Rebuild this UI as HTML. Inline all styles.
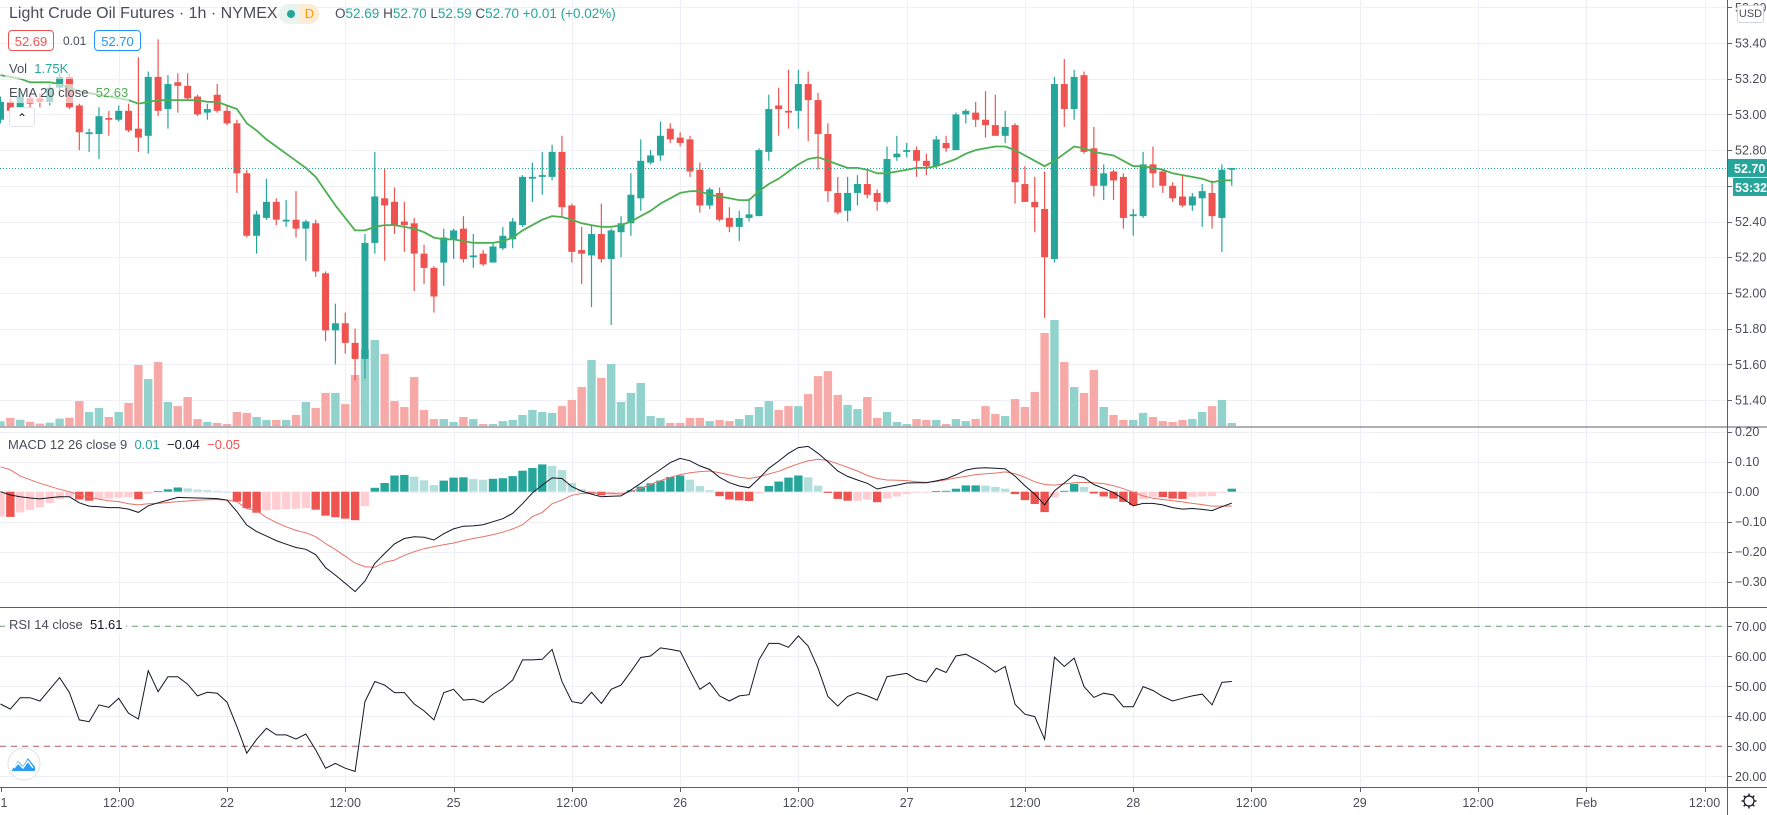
<!DOCTYPE html>
<html><head><meta charset="utf-8"><title>Light Crude Oil Futures 1h</title>
<style>
html,body{margin:0;padding:0;background:#fff;}
#wrap{position:relative;width:1767px;height:815px;overflow:hidden;font-family:"Liberation Sans",sans-serif;color:#131722;}
svg{position:absolute;left:0;top:0;}
.lg{position:absolute;white-space:nowrap;font-size:13px;color:#4a4d57;line-height:16px;}
.t{color:#26a69a}
</style></head><body>
<div id="wrap">
<svg id="chart" width="1767" height="815" viewBox="0 0 1767 815">
<defs>
<clipPath id="cpPrice"><rect x="0" y="0" width="1727" height="426"/></clipPath>
<clipPath id="cpMacd"><rect x="0" y="428" width="1727" height="179"/></clipPath>
<clipPath id="cpRsi"><rect x="0" y="609" width="1727" height="178"/></clipPath>
</defs>
</svg>

<div class="lg" style="left:9px;top:4px;font-size:16px;line-height:20px;color:#4a4d57">Light Crude Oil Futures · 1h · NYMEX</div>
<div style="position:absolute;left:279px;top:4px;width:40px;height:20px;border-radius:10px;background:#e9f4f1">
 <div style="position:absolute;left:8px;top:6px;width:8px;height:8px;border-radius:4px;background:#26a69a"></div>
 <div style="position:absolute;left:21px;top:0;width:19px;height:20px;border-radius:0 10px 10px 0;background:#fdebd3;color:#ff9800;font-size:13px;line-height:20px;text-align:center">D</div>
</div>
<div class="lg" style="left:335px;top:6px;font-size:13.5px">O<span class="t">52.69</span> H<span class="t">52.70</span> L<span class="t">52.59</span> C<span class="t">52.70</span> <span class="t">+0.01 (+0.02%)</span></div>
<div style="position:absolute;left:8px;top:30px;width:46px;height:21px;border:1px solid #ef5350;border-radius:4px;color:#ef5350;font-size:13px;line-height:21px;text-align:center;box-sizing:border-box">52.69</div>
<div class="lg" style="left:63px;top:33px;font-size:12px">0.01</div>
<div style="position:absolute;left:94px;top:30px;width:47px;height:21px;border:1px solid #2196f3;border-radius:4px;color:#2196f3;font-size:13px;line-height:21px;text-align:center;box-sizing:border-box">52.70</div>
<div class="lg" style="left:9px;top:61px">Vol&nbsp; <span class="t">1.75K</span></div>
<div class="lg" style="left:9px;top:85px">EMA 20 close&nbsp; <span style="color:#4caf50">52.63</span></div>
<div style="position:absolute;left:9px;top:107px;width:26px;height:20px;border:1px solid #e0e3eb;border-radius:3px;background:#fff;box-sizing:border-box;text-align:center;font-size:12px;line-height:20px;color:#131722">⌃</div>
<div class="lg" style="left:8px;top:437px">MACD 12 26 close 9&nbsp; <span class="t">0.01</span>&nbsp; <span style="color:#131722">−0.04</span>&nbsp; <span style="color:#ef5350">−0.05</span></div>
<div class="lg" style="left:5px;top:617px;background:#fff;padding:0 4px">RSI 14 close&nbsp; <span style="color:#131722">51.61</span></div>
<div style="position:absolute;left:1737px;top:5px;width:27px;height:18px;border:1px solid #d1d4dc;border-radius:3px;box-sizing:border-box;font-size:11px;line-height:16px;text-align:center;color:#4a4d57;background:#fff">USD</div>
</div>

<script>
// ---- data ----
const opens=[52.97,53.07,53.03,53.09,53.09,53.07,53.15,53.21,53.05,52.89,52.89,52.98,52.97,53.02,52.92,52.88,53.21,53.03,53.18,53.16,53.10,53.01,53.11,53.02,52.95,52.67,52.32,52.42,52.51,52.40,52.41,52.36,52.39,52.11,51.79,51.83,51.72,51.63,52.28,52.53,52.51,52.40,52.39,52.22,52.14,52.17,52.30,52.36,52.20,52.22,52.17,52.25,52.30,52.38,52.64,52.65,52.65,52.79,52.49,52.24,52.21,52.33,52.19,52.34,52.39,52.53,52.73,52.77,52.92,52.87,52.86,52.69,52.49,52.56,52.42,52.37,52.42,52.43,52.79,53.05,53.02,53.02,53.17,53.08,52.89,52.56,52.46,52.56,52.61,52.56,52.51,52.76,52.79,52.80,52.74,52.71,52.84,52.80,53.00,53.01,52.97,52.94,52.88,52.94,52.61,52.51,52.47,52.19,53.17,53.03,53.22,52.81,52.60,52.68,52.65,52.43,52.43,52.72,52.68,52.60,52.54,52.49,52.53,52.56,52.42,52.69];
const highs=[53.10,53.09,53.13,53.12,53.12,53.17,53.23,53.23,53.06,52.92,53.04,53.02,53.05,53.06,53.32,53.24,53.42,53.22,53.23,53.23,53.11,53.06,53.17,53.05,52.97,52.69,52.46,52.64,52.53,52.52,52.57,52.41,52.41,52.12,51.94,51.89,51.80,52.33,52.79,52.70,52.59,52.51,52.42,52.27,52.15,52.36,52.36,52.43,52.33,52.24,52.28,52.37,52.42,52.66,52.73,52.79,52.83,52.88,52.50,52.37,52.38,52.50,52.36,52.43,52.67,52.86,52.80,52.96,52.95,52.90,52.88,52.73,52.59,52.59,52.48,52.46,52.53,52.81,53.11,53.15,53.25,53.25,53.24,53.12,52.95,52.65,52.65,52.66,52.69,52.58,52.82,52.88,52.84,52.82,52.78,52.88,52.88,53.01,53.03,53.07,53.13,53.11,53.02,52.95,52.71,52.65,52.68,53.21,53.31,53.25,53.24,52.93,52.72,52.69,52.67,52.47,52.79,52.82,52.69,52.62,52.66,52.56,52.61,52.63,52.72,52.70];
const lows=[52.95,53.00,53.00,53.02,53.04,53.05,53.13,53.03,52.80,52.79,52.75,52.88,52.96,52.90,52.79,52.78,52.99,52.92,53.01,53.08,52.99,52.97,53.01,52.94,52.56,52.31,52.22,52.41,52.38,52.37,52.31,52.18,52.09,51.73,51.60,51.66,51.51,51.52,52.22,52.18,52.33,52.23,52.01,52.05,51.89,52.04,52.19,52.17,52.14,52.15,52.17,52.24,52.25,52.37,52.51,52.55,52.63,52.42,52.17,52.05,51.92,52.17,51.82,52.20,52.32,52.46,52.72,52.74,52.84,52.82,52.65,52.45,52.47,52.40,52.34,52.29,52.40,52.43,52.74,52.88,52.92,52.92,52.85,52.69,52.51,52.44,52.40,52.49,52.53,52.46,52.50,52.74,52.76,52.65,52.66,52.70,52.79,52.80,52.95,52.93,52.87,52.88,52.84,52.50,52.51,52.34,51.86,52.17,52.93,52.97,52.78,52.54,52.52,52.52,52.36,52.32,52.42,52.59,52.56,52.51,52.48,52.46,52.37,52.36,52.23,52.60];
const closes=[53.07,53.02,53.10,53.06,53.07,53.15,53.21,53.04,52.90,52.90,52.99,52.97,53.02,52.91,52.87,53.21,53.02,53.17,53.16,53.09,53.00,53.03,53.02,52.95,52.67,52.32,52.44,52.51,52.41,52.41,52.36,52.40,52.12,51.79,51.83,51.72,51.63,52.28,52.54,52.49,52.38,52.38,52.22,52.14,51.98,52.31,52.35,52.19,52.21,52.16,52.26,52.32,52.40,52.65,52.65,52.66,52.79,52.48,52.23,52.22,52.33,52.19,52.35,52.39,52.55,52.74,52.77,52.88,52.86,52.84,52.68,52.49,52.58,52.41,52.37,52.42,52.44,52.80,53.03,53.03,53.01,53.17,53.08,52.89,52.57,52.45,52.56,52.61,52.55,52.51,52.75,52.78,52.80,52.74,52.71,52.86,52.81,53.00,53.02,52.97,52.94,52.88,52.93,52.62,52.51,52.48,52.20,53.17,53.03,53.21,52.79,52.60,52.67,52.63,52.42,52.44,52.72,52.67,52.60,52.53,52.49,52.54,52.57,52.43,52.69,52.70];
const volumes=[2.5,4.0,3.2,2.3,1.5,1.9,3.7,4.1,11.4,6.6,8.4,4.4,6.6,10.6,27.3,21.1,28.6,11.0,9.2,13.2,3.5,2.2,1.8,1.3,6.6,6.2,4.4,3.1,3.1,3.1,5.3,11.0,8.4,15.0,15.0,10.1,22.9,34.3,38.3,32.1,11.4,8.8,22.0,7.5,3.5,3.5,2.2,4.4,3.5,1.3,1.3,2.6,3.1,5.3,7.5,6.6,6.2,9.2,11.9,17.6,29.5,21.6,27.7,11.0,15.0,19.4,4.8,4.0,1.8,1.8,4.0,4.0,2.6,3.1,2.6,3.5,5.3,8.8,11.4,7.5,9.2,9.2,14.5,22.4,24.6,14.1,9.7,7.9,13.2,4.0,6.6,2.2,1.3,3.5,3.1,3.1,1.3,3.5,2.6,3.5,9.2,5.7,4.8,12.3,8.8,15.4,41.4,47.1,28.6,17.6,15.0,25.1,8.8,5.3,3.1,3.1,6.2,4.4,2.6,2.2,3.1,3.5,6.6,9.2,11.9,1.75];
const ema20=[53.22,53.21,53.20,53.18,53.18,53.18,53.17,53.15,53.13,53.12,53.11,53.10,53.09,53.08,53.06,53.07,53.08,53.08,53.08,53.08,53.08,53.07,53.07,53.05,53.03,52.95,52.91,52.86,52.82,52.78,52.74,52.70,52.65,52.57,52.49,52.42,52.35,52.35,52.37,52.38,52.38,52.37,52.36,52.34,52.31,52.30,52.30,52.29,52.28,52.28,52.28,52.29,52.31,52.35,52.38,52.41,52.43,52.425,52.41,52.39,52.38,52.37,52.37,52.38,52.40,52.43,52.46,52.50,52.53,52.56,52.57,52.57,52.55,52.54,52.53,52.52,52.52,52.57,52.61,52.64,52.68,52.72,52.75,52.76,52.74,52.72,52.70,52.70,52.69,52.67,52.67,52.68,52.69,52.70,52.70,52.71,52.73,52.75,52.78,52.80,52.81,52.82,52.82,52.80,52.77,52.74,52.71,52.74,52.78,52.82,52.81,52.79,52.78,52.77,52.74,52.71,52.71,52.70,52.69,52.67,52.66,52.65,52.64,52.62,52.63,52.63];
const macdLine=[0.000,-0.011,-0.017,-0.021,-0.024,-0.020,-0.017,-0.017,-0.037,-0.048,-0.050,-0.053,-0.053,-0.058,-0.069,-0.047,-0.037,-0.028,-0.019,-0.020,-0.021,-0.022,-0.023,-0.028,-0.066,-0.111,-0.133,-0.148,-0.163,-0.175,-0.186,-0.192,-0.210,-0.253,-0.278,-0.305,-0.333,-0.298,-0.239,-0.206,-0.174,-0.156,-0.150,-0.152,-0.161,-0.140,-0.124,-0.115,-0.114,-0.110,-0.100,-0.090,-0.072,-0.040,-0.004,0.022,0.046,0.044,0.017,0.002,-0.008,-0.017,-0.015,-0.014,0.006,0.028,0.052,0.074,0.097,0.111,0.103,0.086,0.074,0.048,0.030,0.019,0.013,0.044,0.078,0.102,0.128,0.147,0.151,0.128,0.100,0.069,0.051,0.039,0.028,0.009,0.016,0.022,0.029,0.030,0.030,0.036,0.043,0.056,0.072,0.078,0.080,0.078,0.076,0.052,0.020,-0.008,-0.044,0.003,0.029,0.056,0.047,0.024,0.011,-0.003,-0.024,-0.047,-0.039,-0.039,-0.044,-0.053,-0.058,-0.056,-0.059,-0.063,-0.050,-0.038];
const signalLine=[0.083,0.073,0.052,0.040,0.028,0.018,0.008,0.000,-0.011,-0.018,-0.025,-0.030,-0.033,-0.040,-0.044,-0.040,-0.039,-0.036,-0.033,-0.031,-0.028,-0.027,-0.026,-0.028,-0.033,-0.056,-0.063,-0.086,-0.103,-0.117,-0.129,-0.137,-0.150,-0.173,-0.193,-0.215,-0.238,-0.250,-0.252,-0.235,-0.228,-0.212,-0.200,-0.190,-0.183,-0.177,-0.171,-0.163,-0.156,-0.150,-0.143,-0.135,-0.124,-0.110,-0.083,-0.069,-0.040,-0.028,-0.012,-0.006,-0.005,-0.005,-0.005,-0.008,0.001,0.011,0.024,0.037,0.048,0.057,0.063,0.067,0.069,0.063,0.056,0.048,0.044,0.050,0.059,0.068,0.081,0.093,0.103,0.108,0.104,0.093,0.081,0.069,0.054,0.044,0.039,0.038,0.037,0.033,0.031,0.034,0.040,0.046,0.051,0.057,0.060,0.062,0.066,0.060,0.048,0.033,0.024,0.022,0.026,0.030,0.031,0.030,0.027,0.020,0.010,-0.002,-0.014,-0.022,-0.026,-0.030,-0.034,-0.039,-0.043,-0.048,-0.048,-0.048];
const rsiValues=[44.1,42.4,46.2,46.2,45.1,49,52.9,47.9,38.8,38.2,43.8,43,46,41,39.1,55.2,48.2,53.2,53.2,50.7,46.8,48,47.7,44.7,36.6,27.7,32.3,36,33.8,33.8,32.4,34.1,28.8,22.7,24.3,22.7,21.6,44.9,51.6,50.4,47.9,47.9,44.1,41.8,38.8,47.9,49,45.4,45.7,44.6,47.4,49.3,52.1,58.8,58.8,59,62.3,51.6,44.9,44.3,48,44.3,49,50.4,54.9,59.6,60.1,62.8,62.3,61.7,55.2,49,51.2,46.8,45.1,46.8,47.2,58.8,64.3,64.3,63,66.8,63.4,56,46.6,43.4,46.6,47.9,46.8,45.4,53.2,53.8,54.3,52.3,51.4,56,54.6,60.1,60.7,59,57.1,54.7,56.6,44,40.7,39.9,32.3,59.7,56.6,59.4,49.9,46.3,47.7,47.1,43.2,43.2,49.9,48.6,46.6,45.1,46,46.8,47.4,43.8,51.3,51.61];
const priceTicks=[53.60,53.40,53.20,53.00,52.80,52.60,52.40,52.20,52.00,51.80,51.60,51.40];
const macdTicks=[0.20,0.10,0.00,-0.10,-0.20,-0.30];
const rsiTicks=[70,60,50,40,30,20];
const timeTickBars=[0,12,23,35,46,58,69,81,92,104,115,127,138,150,161,173];
const timeTickLabels=["21","12:00","22","12:00","25","12:00","26","12:00","27","12:00","28","12:00","29","12:00","Feb","12:00"];
const lastPrice=52.70;

// ---- scales ----
const NS="http://www.w3.org/2000/svg";
const svg=document.getElementById('chart');
const STEP=9.85, PLOT_R=1727;
function xAt(i){return i*STEP+0.5;}
function yP(p){return 43+(53.40-p)*178.5;}
function yV(v){return 427-v/47.1*107;}
function yM(v){return 491.7-v*300;}
function yR(v){return 626.3+(70-v)*3;}
function mk(tag,attrs,parent){const el=document.createElementNS(NS,tag);for(const k in attrs)el.setAttribute(k,attrs[k]);(parent||svg).appendChild(el);return el;}
const f2=v=>v.toFixed(2).replace('-','−');

// ---- grid ----
const gGrid=mk('g',{});


timeTickBars.forEach((b,k)=>{ if(k===0) return;
  const x=Math.round(xAt(b))+0.5;
  const l=mk('line',{x1:x,x2:x,y1:0,y2:787,stroke:'#eef0f5','stroke-width':1},gGrid);
  
  
});
priceTicks.forEach(p=>{const y=Math.round(yP(p))+0.5;
  const l=mk('line',{x1:0,x2:PLOT_R,y1:y,y2:y,stroke:'#eef0f5'},gGrid);
  
  });
macdTicks.forEach(v=>{const y=Math.round(yM(v))+0.5;
  const l=mk('line',{x1:0,x2:PLOT_R,y1:y,y2:y,stroke:'#eef0f5'},gGrid);
  
  });
rsiTicks.forEach(v=>{const y=Math.round(yR(v))+0.5;
  const l=mk('line',{x1:0,x2:PLOT_R,y1:y,y2:y,stroke:'#eef0f5'},gGrid);
  
  });

// ---- price pane ----
const gP=mk('g',{'clip-path':'url(#cpPrice)'});


volumes.forEach((v,i)=>{const up=closes[i]>=opens[i];const y=yV(v);
  const r=mk('rect',{x:xAt(i)-4.2,y:y,width:8.4,height:427-y,fill:up?'#92d2cc':'#f7a9a7'},gP);
  
  });
opens.forEach((o,i)=>{const c=closes[i];const up=c>=o;const col=up?'#26a69a':'#ef5350';const x=xAt(i);
  const w=mk('line',{x1:x,x2:x,y1:yP(highs[i]),y2:yP(lows[i]),stroke:col,'stroke-width':1.2},gP);
  
  
  const t=yP(Math.max(o,c)),b=yP(Math.min(o,c));
  const r=mk('rect',{x:x-3.5,y:t,width:7,height:Math.max(1.2,b-t),fill:col},gP);
  
  });
const emaPath=mk('polyline',{points:ema20.map((v,i)=>xAt(i)+','+yP(v).toFixed(1)).join(' '),fill:'none',stroke:'#4caf50','stroke-width':1.8,'stroke-linejoin':'round'},gP);


const ly=Math.round(yP(lastPrice))+0.5;
const lpl=mk('line',{x1:0,x2:PLOT_R,y1:ly,y2:ly,stroke:'#26a69a','stroke-dasharray':'1 2','stroke-width':1},gP);


const fade1=mk('rect',{x:5,y:60,width:68,height:19,fill:'#fff','fill-opacity':0.6},gP);


const fade2=mk('rect',{x:5,y:84,width:124,height:19,fill:'#fff','fill-opacity':0.6},gP);



// ---- MACD pane ----
const gM=mk('g',{'clip-path':'url(#cpMacd)'});


let prevH=null;
macdLine.forEach((m,i)=>{const h=m-signalLine[i];let col;
  if(h>=0) col=(prevH===null||h>=prevH)?'#26a69a':'#b2dfdb'; else col=(prevH!==null&&h<prevH)?'#ef5350':'#ffcdd2';
  prevH=h;const y0=yM(0),y1=yM(h);
  const r=mk('rect',{x:xAt(i)-4.2,y:Math.min(y0,y1),width:8.4,height:Math.max(0.8,Math.abs(y1-y0)),fill:col},gM);
  
  });
const sigL=mk('polyline',{points:signalLine.map((v,i)=>xAt(i)+','+yM(v).toFixed(1)).join(' '),fill:'none',stroke:'#e57368','stroke-width':1},gM);


const macL=mk('polyline',{points:macdLine.map((v,i)=>xAt(i)+','+yM(v).toFixed(1)).join(' '),fill:'none',stroke:'#131722','stroke-width':1},gM);



// ---- RSI pane ----
const gR=mk('g',{'clip-path':'url(#cpRsi)'});


const ob=mk('line',{x1:0,x2:PLOT_R,y1:yR(70),y2:yR(70),stroke:'#6f9f7a','stroke-dasharray':'6 5'},gR);


const os=mk('line',{x1:0,x2:PLOT_R,y1:yR(30),y2:yR(30),stroke:'#b0615f','stroke-dasharray':'6 5'},gR);


const rl=mk('polyline',{points:rsiValues.map((v,i)=>xAt(i)+','+yR(v).toFixed(1)).join(' '),fill:'none',stroke:'#131722','stroke-width':1},gR);



// ---- separators & axes ----
const gA=mk('g',{});


[427,607.5,787.5].forEach(y=>{const l=mk('line',{x1:0,x2:1767,y1:y,y2:y,stroke:'#5d606b','stroke-width':1},gA);
  
  });
const vax=mk('line',{x1:1727.5,x2:1727.5,y1:0,y2:815,stroke:'#5d606b'},gA);


function axisLabel(y,txt,name){
  const tk=mk('line',{x1:1727,x2:1732,y1:Math.round(y)+0.5,y2:Math.round(y)+0.5,stroke:'#5d606b'},gA);
  
  
  const t=mk('text',{x:1735,y:y+4.5,'font-size':12.5,'font-family':'Liberation Sans, sans-serif',fill:'#4a4d57'},gA);
  t.textContent=txt;
  
  }
priceTicks.forEach(p=>axisLabel(yP(p),p.toFixed(2),'price-tick-label'));
macdTicks.forEach(v=>axisLabel(yM(v),f2(v),'macd-tick-label'));
rsiTicks.forEach(v=>axisLabel(yR(v),v.toFixed(2),'rsi-tick-label'));
timeTickBars.forEach((b,k)=>{const x=xAt(b);
  const tk=mk('line',{x1:Math.round(x)+0.5,x2:Math.round(x)+0.5,y1:788,y2:792,stroke:'#5d606b'},gA);
  
  
  const t=mk('text',{x:x,y:807,'font-size':12.5,'text-anchor':'middle','font-family':'Liberation Sans, sans-serif',fill:'#4a4d57'},gA);
  t.textContent=timeTickLabels[k];
  
  });
// last price labels
const lpY=yP(lastPrice);
const lb=mk('rect',{x:1728,y:lpY-9,width:39,height:18,fill:'#26a69a'},gA);


const lt=mk('text',{x:1734,y:lpY+5,'font-size':12.5,'font-weight':'bold','font-family':'Liberation Sans, sans-serif',fill:'#fff'},gA);
lt.textContent=lastPrice.toFixed(2);


const cb=mk('rect',{x:1733,y:lpY+10,width:34,height:18,fill:'#26a69a'},gA);


const ct=mk('text',{x:1735,y:lpY+24,'font-size':12.5,'font-weight':'bold','font-family':'Liberation Sans, sans-serif',fill:'#fff'},gA);
ct.textContent='53:32';


// gear icon
const gear=mk('g',{},gA);


mk('circle',{cx:1749,cy:801,r:5,fill:'none',stroke:'#131722','stroke-width':1.2},gear);
for(let a=0;a<8;a++){const an=a*Math.PI/4;mk('line',{x1:1749+5*Math.cos(an),y1:801+5*Math.sin(an),x2:1749+7.5*Math.cos(an),y2:801+7.5*Math.sin(an),stroke:'#131722','stroke-width':1.4},gear);}
// logo
const logo=mk('g',{});


mk('circle',{cx:24,cy:764,r:16,fill:'#fff',stroke:'#e0e3eb'},logo);
mk('path',{d:'M12 770 L18 761 L23 766 L28 758 L35 767 L35 771 L12 771 Z',fill:'#2a9df4'},logo);
mk('path',{d:'M14 768 L18 763 L23 768 L28 761 L33 768',fill:'none',stroke:'#fff','stroke-width':1.5},logo);
</script>
</body></html>
